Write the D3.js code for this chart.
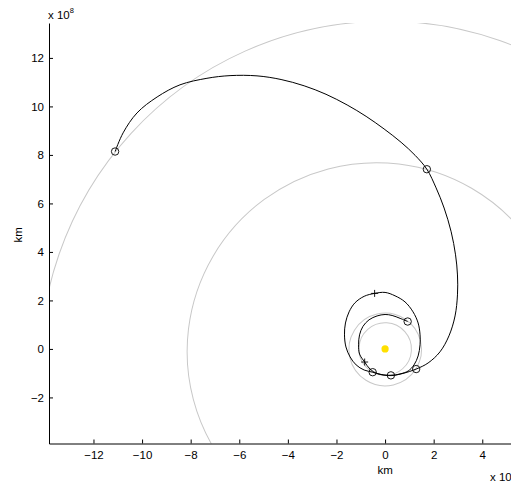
<!DOCTYPE html>
<html>
<head>
<meta charset="utf-8">
<script src="https://cdn.jsdelivr.net/npm/d3@7"></script>
<style>
  body { margin: 0; background: #fff; }
  text { font-family: "Liberation Sans", Arial, Helvetica, sans-serif; }
</style>
</head>
<body>
<div id="my_dataviz"></div>
<script>
var width = 511
var height = 482

// units are 10^8 km
// planet orbits (ellipses with the sun at one focus)
var planets = ["Venus", "Earth", "Jupiter", "Saturn"]
var semiMajor = [1.082, 1.496, 7.783, 14.294]
var eccentricity = [0.0068, 0.0167, 0.0484, 0.0565]
var perihelionLon = [131.5, 102.9, 14.75, 92.4]

// spacecraft path
var trajX = [0.93, 0.62, 0.29, 0.00, -0.33, -0.66, -0.91, -1.05, -1.09, -1.05, -0.84, -0.62, -0.29, 0.24,
  0.62, 0.95, 1.19, 1.36, 1.44, 1.44, 1.36, 1.15, 0.82, 0.41, 0.00, -0.43, -0.86, -1.24, -1.48, -1.63, -1.67, -1.61, -1.44, -1.19, -0.86, -0.51,
  -0.17, 0.25, 0.74, 1.28,
  1.77, 2.26, 2.63, 2.88, 2.98, 2.98, 2.90, 2.72, 2.43, 2.10, 1.72,
  1.24, 0.66, -0.04, -0.78, -1.56, -2.43, -3.33, -4.28, -5.27, -6.38, -7.33, -8.44, -9.38, -10.21, -10.78, -11.11]
var trajY = [1.13, 1.26, 1.38, 1.42, 1.36, 1.20, 0.93, 0.58, 0.17, -0.21, -0.54, -0.83, -1.03, -1.09,
  -1.03, -0.91, -0.66, -0.29, 0.17, 0.58, 1.07, 1.53, 1.94, 2.19, 2.33, 2.29, 2.17, 1.90, 1.53, 1.07, 0.58, 0.08, -0.33, -0.66, -0.87, -0.96,
  -1.05, -1.10, -1.01, -0.83,
  -0.58, -0.12, 0.54, 1.36, 2.23, 3.05, 3.88, 4.83, 5.81, 6.64, 7.41,
  7.98, 8.52, 9.07, 9.59, 10.06, 10.50, 10.85, 11.11, 11.26, 11.27, 11.16, 10.89, 10.39, 9.73, 8.91, 8.14]

// encounters (circles) and manoeuvres (plus signs)
var eventX = [0.93, 0.24, -0.51, 1.28, 1.72, -11.11]
var eventY = [1.13, -1.09, -0.96, -0.83, 7.41, 8.14]
var plusX = [-0.43, -0.84]
var plusY = [2.29, -0.54]

var xTicks = [-12, -10, -8, -6, -4, -2, 0, 2, 4]
var yTicks = [-2, 0, 2, 4, 6, 8, 10, 12]

var svg = d3.select("#my_dataviz")
    .append("svg")
    .attr("width", width)
    .attr("height", height)

var axLeft = 49, axTop = 23, axBottom = 443.5
var x = d3.scaleLinear().domain([-13.83, 5.5]).range([axLeft, axLeft + 19.33 * 24.3])
var y = d3.scaleLinear().domain([-3.9, 13.44]).range([axBottom, axTop])

svg.append("clipPath").attr("id", "clip")
  .append("rect")
  .attr("x", axLeft).attr("y", axTop)
  .attr("width", width - axLeft + 20).attr("height", axBottom - axTop)

var plot = svg.append("g").attr("clip-path", "url(#clip)")

// orbits
planets.forEach(function(p, i) {
    var a = semiMajor[i], e = eccentricity[i], w = perihelionLon[i] * Math.PI / 180
    var cx = x(-a * e * Math.cos(w)), cy = y(-a * e * Math.sin(w))
    plot.append("ellipse")
        .attr("cx", cx).attr("cy", cy)
        .attr("rx", x(a) - x(0))
        .attr("ry", y(0) - y(a * Math.sqrt(1 - e * e)))
        .attr("transform", "rotate(" + (-perihelionLon[i]) + "," + cx + "," + cy + ")")
        .attr("fill", "none")
        .attr("stroke", "#c8c8c8")
        .attr("stroke-width", 1)
})

// trajectory
var line = d3.line()
    .x(function(d) { return x(d[0]) })
    .y(function(d) { return y(d[1]) })
    .curve(d3.curveCatmullRom.alpha(0.5))

plot.append("path")
    .datum(d3.zip(trajX, trajY))
    .attr("d", line)
    .attr("fill", "none")
    .attr("stroke", "#000")
    .attr("stroke-width", 1)

plot.selectAll(".ev")
    .data(d3.zip(eventX, eventY))
    .enter()
    .append("circle")
    .attr("cx", function(d) { return x(d[0]) })
    .attr("cy", function(d) { return y(d[1]) })
    .attr("r", 3.7)
    .attr("fill", "none")
    .attr("stroke", "#000")
    .attr("stroke-width", 0.9)

plot.selectAll(".plus")
    .data(d3.zip(plusX, plusY))
    .enter()
    .append("path")
    .attr("d", function(d) {
        var px = x(d[0]), py = y(d[1])
        return "M" + (px - 3.5) + "," + py + "H" + (px + 3.5) + "M" + px + "," + (py - 3.5) + "V" + (py + 3.5)
    })
    .attr("stroke", "#000")
    .attr("stroke-width", 0.9)

// sun
plot.append("circle")
    .attr("cx", x(0)).attr("cy", y(0))
    .attr("r", 3.6)
    .attr("fill", "#ffe000")

// axes
svg.append("g")
    .attr("transform", "translate(0," + axBottom + ")")
    .call(d3.axisBottom(x).tickValues(xTicks).tickSizeInner(-4).tickSizeOuter(0).tickPadding(7))
svg.append("g")
    .attr("transform", "translate(" + axLeft + ",0)")
    .call(d3.axisLeft(y).tickValues(yTicks).tickSizeInner(-4).tickSizeOuter(0).tickPadding(5))

svg.selectAll(".domain").attr("stroke", "#000")
svg.selectAll(".tick line").attr("stroke", "#000")
svg.selectAll(".tick text").attr("font-size", "11.5px").attr("fill", "#000")
    .style("font-family", "'Liberation Sans', Arial, sans-serif")

svg.append("text")
    .attr("x", x(0)).attr("y", 474)
    .attr("text-anchor", "middle")
    .attr("font-size", "11.5px")
    .text("km")

svg.append("text")
    .attr("transform", "translate(22," + y(4.7) + ") rotate(-90)")
    .attr("text-anchor", "middle")
    .attr("font-size", "11.5px")
    .text("km")

// exponent labels
var expTop = svg.append("text").attr("x", 48).attr("y", 19).attr("font-size", "11.5px")
expTop.append("tspan").text("x 10")
expTop.append("tspan").attr("dy", -6).attr("font-size", "7.5px").text("8")

var expBottom = svg.append("text").attr("x", 490).attr("y", 481).attr("font-size", "11.5px")
expBottom.append("tspan").text("x 10")
expBottom.append("tspan").attr("dy", -6).attr("font-size", "7.5px").text("8")
</script>
</body>
</html>
